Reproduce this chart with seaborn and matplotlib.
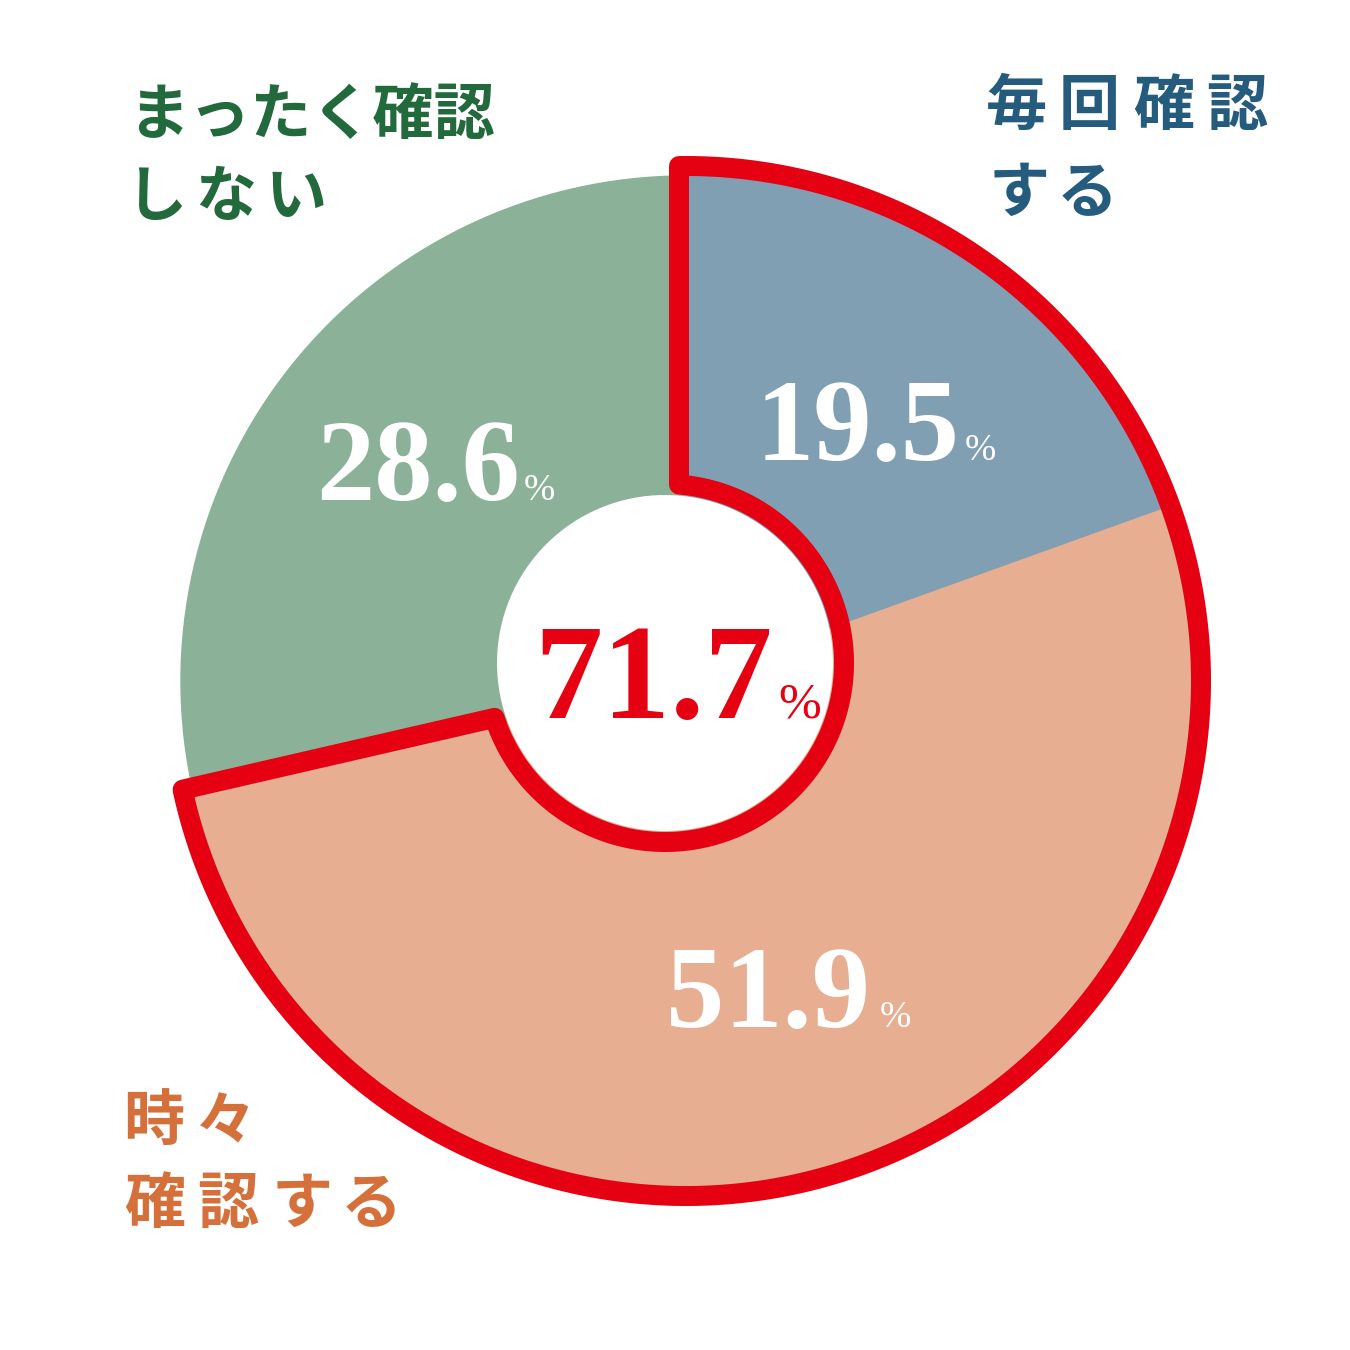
import numpy as np
import matplotlib
matplotlib.use("Agg")
import matplotlib.pyplot as plt
import seaborn as sns
from matplotlib.patches import Circle, PathPatch
from matplotlib.path import Path

# ---------------- data ----------------
categories = ["毎回確認する", "時々確認する", "まったく確認しない"]
values = [19.5, 51.9, 28.6]
value_labels = ["19.5", "51.9", "28.6"]
highlight_label = "71.7"
category_lines = [["毎回確認", "する"], ["時々", "確認する"], ["まったく確認", "しない"]]

# ---------------- style ----------------
slice_colors = ["#819fb3", "#e8ae91", "#8cb199"]
label_colors = ["#255b7d", "#d5703b", "#22693b"]
red = "#e50012"

sns.set_theme(style="white")
plt.rcParams['font.family'] = ['Noto Sans CJK JP', 'DejaVu Sans']

W = H = 1350
fig = plt.figure(figsize=(13.5, 13.5), dpi=100)
ax = fig.add_axes([0, 0, 1, 1])
PX = 72 / 100.0  # pixels -> points


def Y(yp):
    return H - yp


C1 = np.array([686.0, Y(681)])   # pie centre
R = 505
C2 = np.array([665.0, Y(663)])   # hole centre
r_hole = 168

palette = sns.color_palette(slice_colors)
wedges, _ = ax.pie(values, colors=palette, startangle=90, counterclock=False,
                   center=tuple(C1), radius=R, frame=False,
                   wedgeprops=dict(linewidth=1))
for w, c in zip(wedges, palette):
    w.set_edgecolor(c)
    w.set_zorder(1)

ax.add_patch(Circle(tuple(C2), r_hole, fc="white", ec="none", zorder=3))

# ---------------- red outline around the first two slices ----------------
frac = sum(values[:2]) / sum(values)
th1 = np.deg2rad(90)
th2 = np.deg2rad(90 - 360 * frac)
Ro, Ri, d = 515, 179, 7


def line_circle(Q, u, C, r):
    w = Q - C
    b = u @ w
    c = w @ w - r * r
    t = -b + np.sqrt(b * b - c)
    return Q + t * u


u1 = np.array([np.cos(th1), np.sin(th1)])
n1 = np.array([-np.sin(th1), np.cos(th1)])
u2 = np.array([np.cos(th2), np.sin(th2)])
n2 = np.array([np.sin(th2), -np.cos(th2)])
Q1 = C1 + d * n1
Q2 = C1 + d * n2
P1o = line_circle(Q1, u1, C1, Ro)
P1i = line_circle(Q1, u1, C2, Ri)
P2o = line_circle(Q2, u2, C1, Ro)
P2i = line_circle(Q2, u2, C2, Ri)

phi1o = np.arctan2(*(P1o - C1)[::-1])
phi2o = np.arctan2(*(P2o - C1)[::-1])
phi1i = np.arctan2(*(P1i - C2)[::-1])
phi2i = np.arctan2(*(P2i - C2)[::-1])
a_out = np.linspace(phi1o, phi2o, 400)
a_in = np.linspace(phi2i, phi1i, 300)
outer = np.column_stack([C1[0] + Ro * np.cos(a_out), C1[1] + Ro * np.sin(a_out)])
inner = np.column_stack([C2[0] + Ri * np.cos(a_in), C2[1] + Ri * np.sin(a_in)])
verts = np.vstack([outer, inner, outer[:1]])
codes = [Path.MOVETO] + [Path.LINETO] * (len(verts) - 2) + [Path.CLOSEPOLY]
ax.add_patch(PathPatch(Path(verts, codes), fill=False, ec=red, lw=20 * PX,
                       joinstyle="round", capstyle="round", zorder=4))

# ---------------- numbers ----------------
num_font = ['Liberation Serif', 'DejaVu Serif']
num_pos = [(960, 460), (870, 1027), (520, 500)]   # right edge of digits, baseline
pct_pos = [(965, 460), (880, 1027), (524, 500)]
for lab, (xr, yb), (xp, yp) in zip(value_labels, num_pos, pct_pos):
    ax.text(xr, Y(yb), lab, ha="right", va="baseline", color="white",
            fontsize=84, fontweight="bold", family=num_font, zorder=5)
    ax.text(xp, Y(yp), "%", ha="left", va="baseline", color="white",
            fontsize=27, family=num_font, zorder=5)

ax.text(773, Y(718), highlight_label, ha="right", va="baseline", color=red,
        fontsize=98, fontweight="bold", family=num_font, zorder=5)
ax.text(778, Y(718), "%", ha="left", va="baseline", color=red,
        fontsize=37, family=num_font, zorder=5)

# ---------------- category labels ----------------
jp_font = ['Noto Sans CJK JP', 'DejaVu Sans']
jp_size = 44
em_px = jp_size / PX
# None -> draw the whole line as one string starting at the given left x
label_layout = [
    [([1016, 1089, 1164, 1237], 102), ([1019, 1087], 189)],
    [([154, 226], 1118), ([155, 228, 302, 371], 1200)],
    [(None, 111, 128), ([156, 226, 296], 193)],
]
for lines, layout, col in zip(category_lines, label_layout, label_colors):
    for line, spec in zip(lines, layout):
        xs, yc = spec[0], spec[1]
        yb = yc + 0.38 * em_px
        if xs is None:
            ax.text(spec[2], Y(yb), line, ha="left", va="baseline", color=col,
                    fontsize=jp_size, fontweight="bold", family=jp_font, zorder=5)
            continue
        for ch, xc in zip(line, xs):
            ax.text(xc, Y(yb), ch, ha="center", va="baseline", color=col,
                    fontsize=jp_size, fontweight="bold", family=jp_font, zorder=5)

ax.set_xlim(0, W)
ax.set_ylim(0, H)
ax.set_aspect("equal")
ax.axis("off")
fig.savefig("out.png", dpi=100, facecolor="white")
